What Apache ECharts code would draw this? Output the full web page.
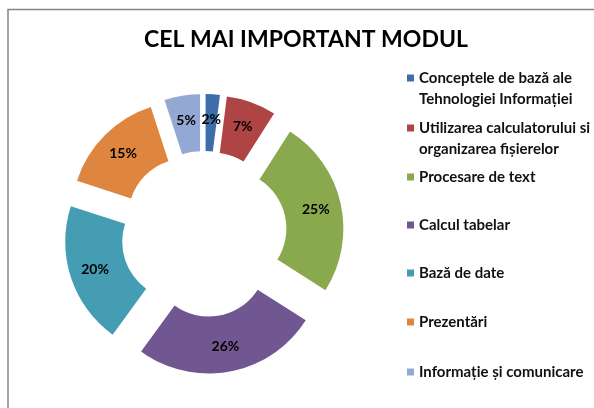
<!DOCTYPE html>
<html>
<head>
<meta charset="utf-8">
<script src="https://cdn.jsdelivr.net/npm/echarts@6/dist/echarts.min.js"></script>
<style>
  html, body { margin: 0; padding: 0; background: #fff; }
  #chart { width: 594px; height: 408px; }
</style>
</head>
<body>
<div id="chart"></div>
<script>
const titleText = 'CEL MAI IMPORTANT MODUL';
const categories = [
  'Conceptele de bază ale\nTehnologiei Informației',
  'Utilizarea calculatorului si\norganizarea fișierelor',
  'Procesare de text',
  'Calcul tabelar',
  'Bază de date',
  'Prezentări',
  'Informație și comunicare'
];
const values = [2, 7, 25, 26, 20, 15, 5];

const palette = ['#3d6daa', '#ae4544', '#8aa94f', '#715791', '#459db4', '#de8640', '#93a9d3'];
const fontFamily = 'Lato, "Open Sans", sans-serif';

// y of the first text line of each legend entry
const legendLineY = [78, 128, 177, 225, 273, 322, 372];
const lineH = 21;

const chart = echarts.init(document.getElementById('chart'), null, { renderer: 'canvas' });

// one legend per entry so the gaps match; two-line entries get a blank
// line on top so the marker lines up with the first line
const legends = categories.map((name, i) => {
  const twoLines = name.indexOf('\n') >= 0;
  return {
    orient: 'vertical',
    left: 407,
    top: legendLineY[i] - lineH / 2 - (twoLines ? lineH : 0),
    padding: 0,
    itemWidth: 7,
    itemHeight: 7,
    icon: 'rect',
    selectedMode: false,
    data: [name],
    formatter: (n) => (twoLines ? ' \n' + n : n),
    textStyle: {
      color: '#111',
      fontFamily: fontFamily,
      fontWeight: 'bold',
      fontSize: 15,
      lineHeight: lineH
    }
  };
});

const option = {
  animation: false,
  color: palette,
  title: {
    text: titleText,
    left: 144,
    top: 28,
    padding: 0,
    textStyle: {
      color: '#000',
      fontFamily: fontFamily,
      fontWeight: 'bold',
      fontSize: 23
    }
  },
  legend: legends,
  graphic: [{
    type: 'rect',
    silent: true,
    shape: { x: 8, y: 9.5, width: 700, height: 500 },
    style: { fill: 'none', stroke: '#858585', lineWidth: 1.5 }
  }],
  series: [{
    type: 'pie',
    center: [204, 234],
    radius: [58, 115],
    startAngle: 90,
    clockwise: true,
    selectedMode: 'multiple',
    selectedOffset: 25,
    avoidLabelOverlap: false,
    emphasis: { disabled: true },
    label: {
      show: true,
      position: 'inside',
      color: '#000',
      fontFamily: fontFamily,
      fontWeight: 'bold',
      fontSize: 14,
      formatter: (p) => p.value + '%'
    },
    labelLine: { show: false },
    data: categories.map((name, i) => ({ name: name, value: values[i], selected: true }))
  }]
};

chart.setOption(option);
</script>
</body>
</html>
